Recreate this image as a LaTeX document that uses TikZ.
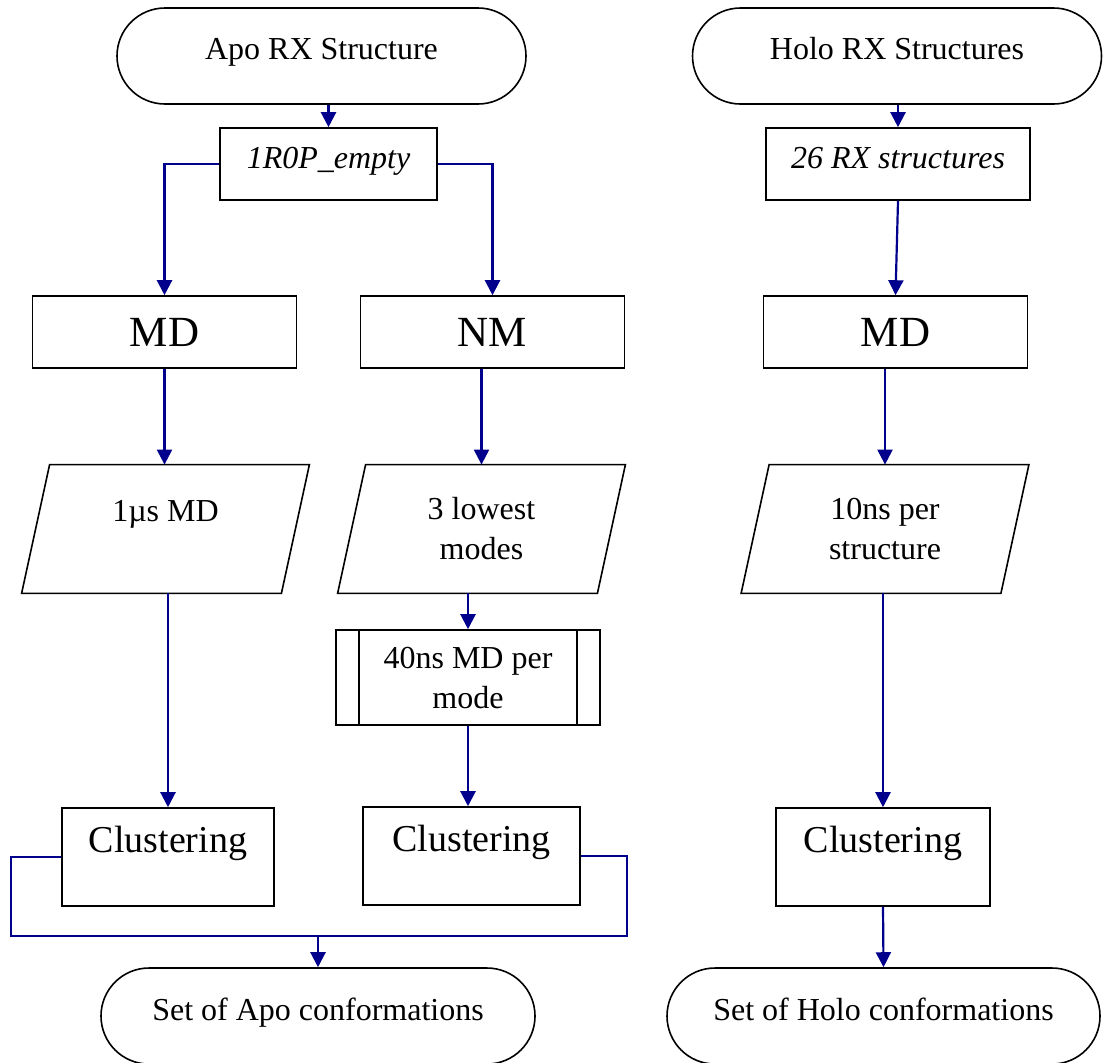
\documentclass[tikz,border=0pt]{standalone}
\usepackage{fontspec}
\setmainfont{Liberation Serif}
\usepackage{tikz}
\usetikzlibrary{arrows.meta,positioning,calc}
\definecolor{flowblue}{RGB}{0,0,140}

\begin{document}
\begin{tikzpicture}[
    x=0.5pt, y=-0.5pt,
    term/.style ={rectangle, draw, line width=0.8pt, rounded corners=24pt, minimum width=204.5pt, minimum height=48pt,
                  font=\fontsize{16}{20}\selectfont, text height=3.3pt, text depth=0pt},
    box/.style  ={rectangle, draw, line width=0.8pt, minimum height=36pt, font=\fontsize{16}{20}\selectfont\itshape,
                  text height=4pt, text depth=0pt},
    big/.style  ={rectangle, draw, line width=0.8pt, minimum width=132pt, minimum height=36pt, font=\fontsize{21.5}{26}\selectfont},
    io/.style   ={rectangle, minimum width=143.5pt, minimum height=64pt, align=center, font=\fontsize{16}{20}\selectfont},
    sub/.style  ={rectangle, draw, line width=0.8pt, minimum width=132pt, minimum height=47.5pt, align=center,
                  font=\fontsize{16}{20}\selectfont},
    clus/.style ={rectangle, draw, line width=0.8pt, minimum height=49pt, font=\fontsize{19}{23}\selectfont,
                  text height=0pt, text depth=4.3pt},
    arr/.style  ={draw=flowblue, line width=1.1pt, -{Triangle[length=7.5pt,width=7.5pt]}},
    lnk/.style  ={draw=flowblue, line width=0.9pt}
]
  \useasboundingbox (0,0) rectangle (1106,1062);

  % apo branch
  \node[term] (apo)   at (321.5,56)  {Apo RX Structure};
  \node[box, minimum width=108.5pt] (r0p) at (328.5,164) {1R0P\_empty};
  \node[big]  (md1)   at (164.5,332) {MD};
  \node[big]  (nm)    at (492.5,332) {NM};
  \node[io, text height=0pt, text depth=8pt] (para1) at (165.5,529) {1µs MD};
  \node[io]   (para2) at (481.5,529) {3 lowest\\modes};
  \node[sub]  (pp)    at (468,677.5) {40ns MD per\\mode};
  \node[clus, minimum width=106pt]   (clust1) at (168,857)   {Clustering};
  \node[clus, minimum width=108.5pt] (clust2) at (471.5,856) {Clustering};
  \node[term, minimum width=217pt, text height=4pt] (aposet) at (318,1016) {Set of Apo conformations};

  \draw[line width=0.8pt] ([xshift=12pt]pp.north west) -- ([xshift=12pt]pp.south west);
  \draw[line width=0.8pt] ([xshift=-12pt]pp.north east) -- ([xshift=-12pt]pp.south east);

  % holo branch
  \node[term] (holo)  at (897,56)    {Holo RX Structures};
  \node[box, minimum width=132pt] (rx26) at (898,164) {26 RX structures};
  \node[big]  (md2)   at (895.5,332) {MD};
  \node[io]   (para3) at (885,529)   {10ns per\\structure};
  \node[clus, minimum width=107pt] (clust3) at (883,857) {Clustering};
  \node[term, minimum width=216.5pt, text height=4pt] (holoset) at (883.5,1016) {Set of Holo conformations};

  % slanted data boxes
  \foreach \p in {para1,para2,para3}
    \draw[line width=0.8pt] ([xshift=14pt]\p.north west) -- (\p.north east)
      -- ([xshift=-14pt]\p.south east) -- (\p.south west) -- cycle;

  \coordinate (lc) at (11,936);
  \coordinate (rc) at (627,936);

  % connectors
  \draw[arr] (r0p.north |- apo.south) -- (r0p.north);
  \draw[arr] (r0p.west) -| (md1.north);
  \draw[arr] (r0p.east) -| (nm.north);
  \draw[arr] (md1.south) -- (md1.south |- para1.north);
  \draw[arr] (para2.north |- nm.south) -- (para2.north);
  \draw[arr] (clust1.north |- para1.south) -- (clust1.north);
  \draw[arr] (pp.north |- para2.south) -- (pp.north);
  \draw[arr] (pp.south) -- (pp.south |- clust2.north);
  \draw[lnk] (clust1.west) -| (lc) -- (rc) |- (clust2.east);
  \draw[arr] (aposet.north |- lc) -- (aposet.north);

  \draw[arr] (rx26.north |- holo.south) -- (rx26.north);
  \draw[arr] (rx26.south) -- (md2.north);
  \draw[arr] (para3.north |- md2.south) -- (para3.north);
  \draw[arr] (clust3.north |- para3.south) -- (clust3.north);
  \draw[arr] (clust3.south) -- (holoset.north);
\end{tikzpicture}
\end{document}
